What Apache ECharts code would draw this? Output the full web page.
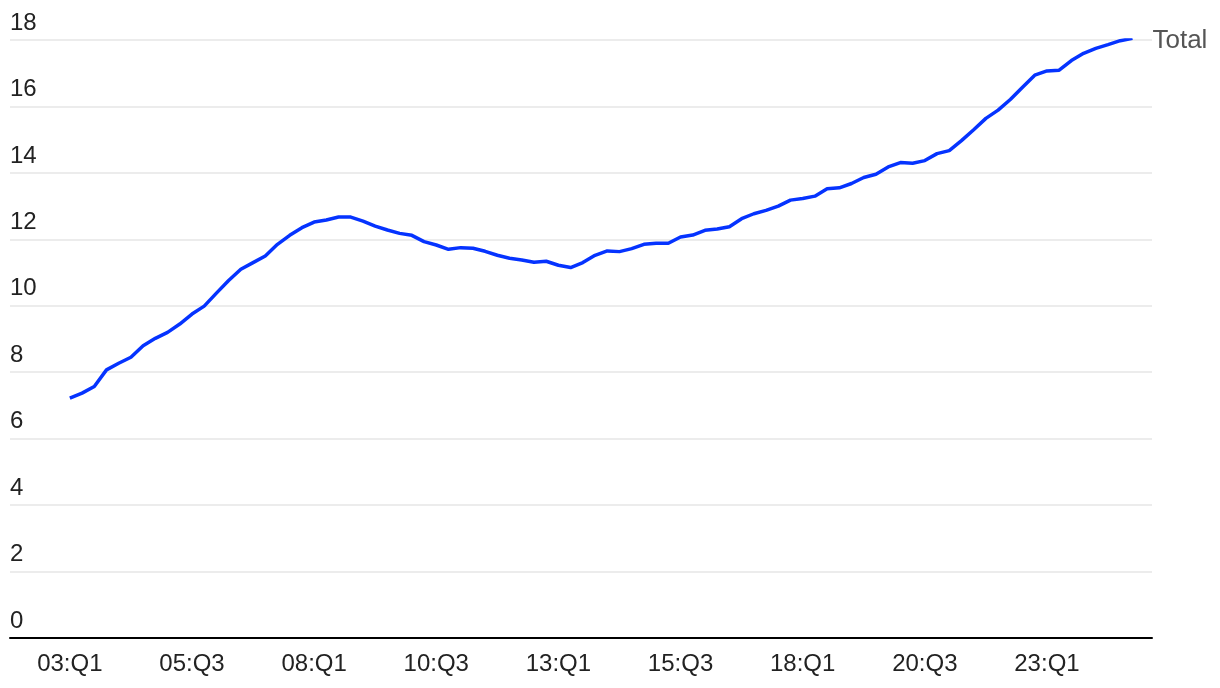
<!DOCTYPE html>
<html>
<head>
<meta charset="utf-8">
<style>
  html, body { margin: 0; padding: 0; background: #fff; }
  #chart { width: 1220px; height: 688px; }
</style>
<script src="https://cdn.jsdelivr.net/npm/echarts@6/dist/echarts.min.js"></script>
</head>
<body>
<div id="chart"></div>
<script>
  // quarters 03:Q1 .. 24:Q4
  const quarters = [];
  for (let y = 3; y <= 24; y++) {
    for (let q = 1; q <= 4; q++) {
      quarters.push((y < 10 ? '0' + y : '' + y) + ':Q' + q);
    }
  }

  const totalValues = [
    7.22, 7.37, 7.57, 8.07, 8.27, 8.45, 8.80, 9.02, 9.20, 9.45,
    9.75, 9.99, 10.38, 10.76, 11.10, 11.30, 11.50, 11.85, 12.12, 12.35,
    12.52, 12.58, 12.67, 12.67, 12.55, 12.40, 12.28, 12.18, 12.12, 11.93,
    11.83, 11.70, 11.75, 11.73, 11.64, 11.52, 11.43, 11.38, 11.31, 11.34,
    11.22, 11.15, 11.30, 11.52, 11.65, 11.63, 11.72, 11.85, 11.88, 11.88,
    12.07, 12.13, 12.27, 12.31, 12.38, 12.62, 12.77, 12.87, 13.00, 13.18,
    13.23, 13.30, 13.52, 13.55, 13.68, 13.86, 13.96, 14.18, 14.31, 14.29,
    14.37, 14.58, 14.67, 14.97, 15.30, 15.64, 15.89, 16.21, 16.58, 16.94,
    17.07, 17.09, 17.38, 17.60, 17.75, 17.86, 17.98, 18.05
  ];

  // x label every 10 quarters
  const tickIndex = [0, 10, 20, 30, 40, 50, 60, 70, 80];

  const fontFamily = '"Liberation Sans", Arial, sans-serif';
  const chart = echarts.init(document.getElementById('chart'));

  const option = {
    animation: false,
    grid: {
      left: 10,
      right: 68,
      top: 40,
      bottom: 50
    },
    xAxis: {
      type: 'value',
      min: -4.9,
      max: 88.6,
      splitLine: { show: false },
      axisTick: { show: false },
      axisLine: {
        show: true,
        onZero: false,
        lineStyle: { color: '#000', width: 2 }
      },
      axisLabel: {
        customValues: tickIndex,
        formatter: v => quarters[v],
        color: '#222',
        fontSize: 24,
        fontFamily: fontFamily,
        margin: 14
      }
    },
    yAxis: {
      type: 'value',
      min: 0,
      max: 18,
      interval: 2,
      axisLine: { show: false },
      axisTick: { show: false },
      splitLine: {
        lineStyle: { color: '#e6e6e6', width: 1.5 }
      },
      axisLabel: {
        inside: true,
        margin: 0,
        verticalAlign: 'bottom',
        padding: [0, 0, 5, 0],
        color: '#222',
        fontSize: 24,
        fontFamily: fontFamily
      }
    },
    series: [{
      name: 'Total',
      type: 'line',
      data: totalValues.map((v, i) => [i, v]),
      showSymbol: false,
      lineStyle: { color: '#0533ff', width: 3.5 },
      endLabel: {
        show: true,
        formatter: 'Total',
        color: '#555',
        fontSize: 26,
        fontFamily: fontFamily,
        distance: 20,
        offset: [0, 2]
      }
    }]
  };

  chart.setOption(option);
</script>
</body>
</html>
